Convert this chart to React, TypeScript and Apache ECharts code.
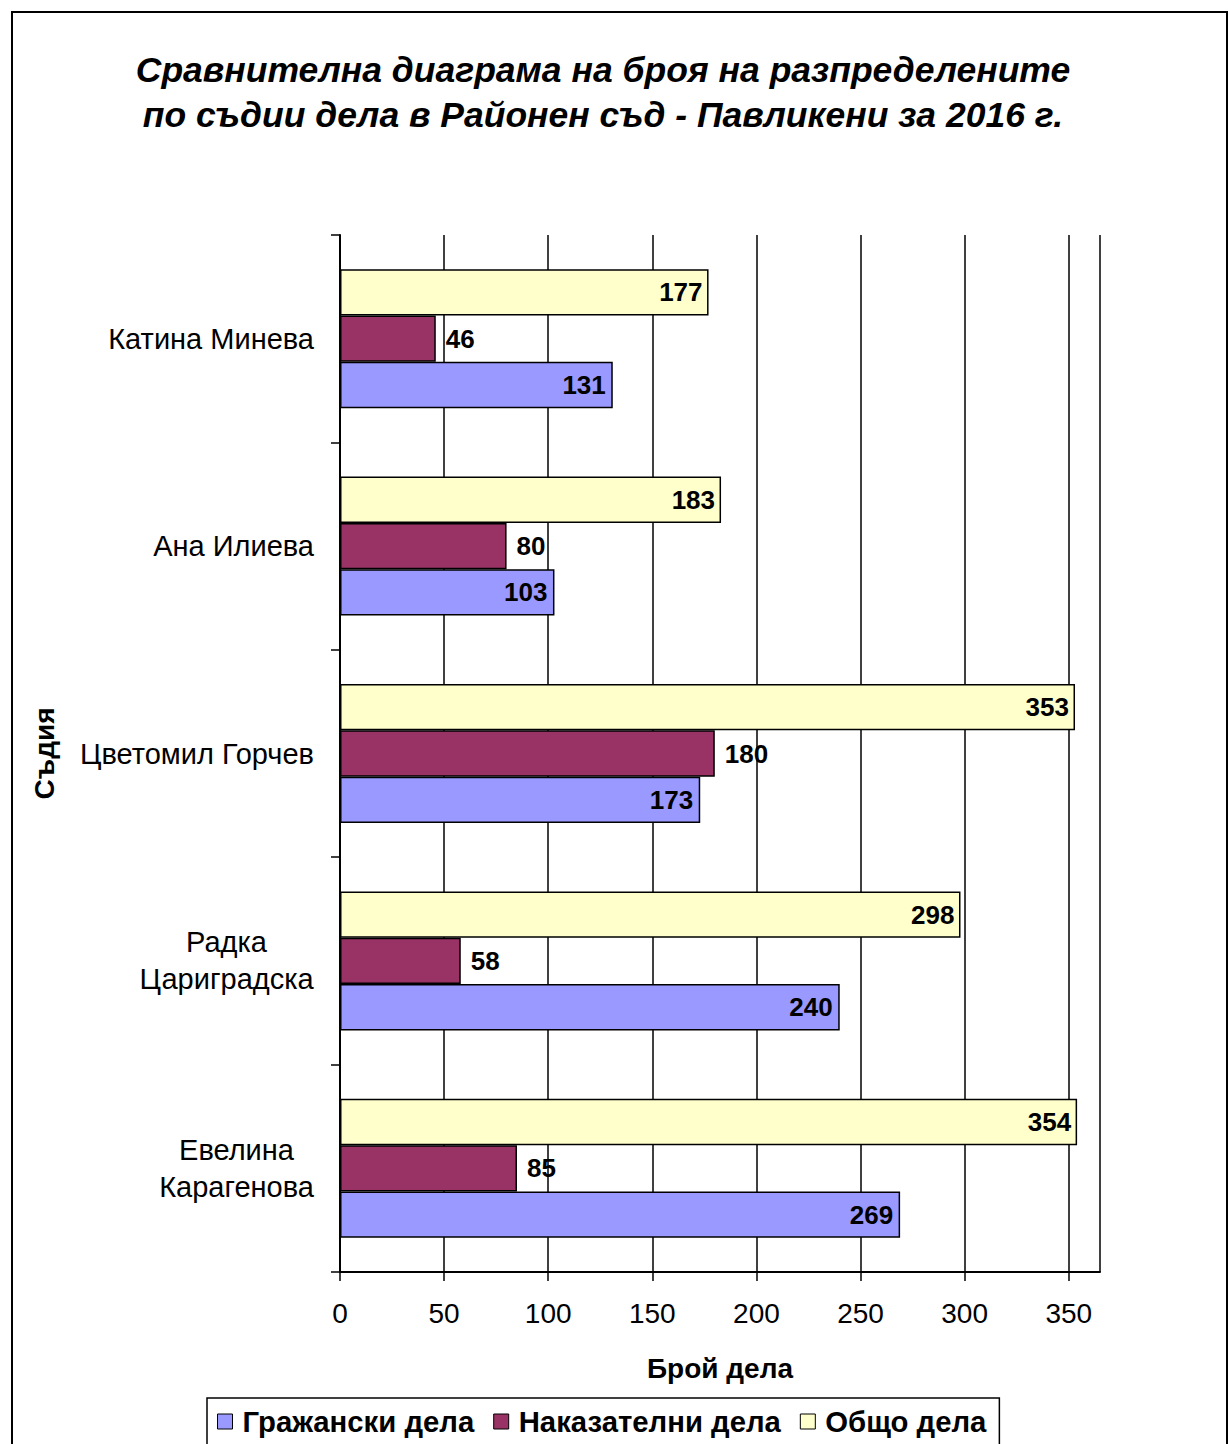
import React, { useEffect, useRef } from "react";
import * as echarts from "echarts";

const judges = ["Катина Минева", "Ана Илиева", "Цветомил Горчев", "Радка\nЦариградска", "Евелина\nКарагенова"];
const civilCases = [131, 103, 173, 240, 269];
const criminalCases = [46, 80, 180, 58, 85];
const totalCases = [177, 183, 353, 298, 354];
const seriesNames = ["Гражански дела", "Наказателни дела", "Общо дела"];
const titleLines = ["Сравнителна диаграма на броя на разпределените", "по съдии дела в Районен съд - Павликени за 2016 г."];
const xAxisTitle = "Брой дела";
const yAxisTitle = "Съдия";

const FONT = "'Liberation Sans', Arial, sans-serif";
const CAT_SIZE = 29;

function measure(text: string, font: string): number {
  const c = document.createElement("canvas");
  const ctx = c.getContext("2d");
  if (!ctx) return text.length * 13;
  ctx.font = font;
  return ctx.measureText(text).width;
}

export default function App() {
  const ref = useRef<HTMLDivElement>(null);
  useEffect(() => {
    if (!ref.current) return;
    const chart = echarts.init(ref.current, undefined, { renderer: "svg" });
    const rich: Record<string, any> = {};
    judges.forEach((j, i) => {
      const lines = j.split("\n");
      const w = Math.ceil(Math.max(...lines.map((l) => measure(l, `${CAT_SIZE}px 'Liberation Sans'`))));
      rich["c" + i] = { width: w, align: "center", fontSize: CAT_SIZE, fontFamily: FONT, color: "#000", lineHeight: 37 };
    });
    const labelBase = { show: true, fontFamily: FONT, fontWeight: "bold", fontSize: 26, color: "#000" };
    const mk = (name: string, data: number[], color: string, pos: string, dist: number) => ({
      name,
      type: "bar",
      data,
      barGap: "0%",
      barCategoryGap: "33%",
      itemStyle: { color, borderColor: "#000", borderWidth: 1.5 },
      label: { ...labelBase, position: pos, distance: dist },
    });
    chart.setOption({
      animation: false,
      backgroundColor: "#fff",
      textStyle: { fontFamily: FONT },
      graphic: [
        { type: "rect", shape: { x: 12, y: 12, width: 1215, height: 1460 }, style: { fill: "none", stroke: "#000", lineWidth: 2 } },
        {
          type: "text",
          x: 603,
          y: 47,
          style: {
            text: titleLines.join("\n"),
            align: "center",
            verticalAlign: "top",
            fontFamily: FONT,
            fontWeight: "bold",
            fontStyle: "italic",
            fontSize: 35.5,
            lineHeight: 45,
            fill: "#000",
          },
        },
      ],
      legend: {
        data: seriesNames,
        left: 207,
        top: 1398,
        padding: [9, 13, 14, 10],
        borderColor: "#000",
        borderWidth: 1.5,
        itemWidth: 25,
        itemHeight: 15,
        itemGap: 19,
        icon: "path://M0,0L10,0L10,10L0,10Z",
        itemStyle: { borderColor: "#000", borderWidth: 1 },
        textStyle: { fontFamily: FONT, fontWeight: "bold", fontSize: 29.3, color: "#000" },
      },
      grid: { left: 340, right: 128, top: 235, bottom: 172, containLabel: false },
      xAxis: {
        type: "value",
        min: 0,
        max: 365,
        interval: 50,
        name: xAxisTitle,
        nameLocation: "middle",
        nameGap: 82,
        nameTextStyle: { fontFamily: FONT, fontWeight: "bold", fontSize: 28, color: "#000" },
        axisLine: { show: true, lineStyle: { color: "#000", width: 2 } },
        axisTick: { show: true, length: 9, lineStyle: { color: "#000", width: 1.5 } },
        axisLabel: {
          fontFamily: FONT,
          fontSize: 28,
          color: "#000",
          margin: 27,
          showMaxLabel: false,
          formatter: (v: number) => (v % 50 === 0 ? String(v) : ""),
        },
        splitLine: { show: true, lineStyle: { color: "#000", width: 1.5 } },
      },
      yAxis: {
        type: "category",
        data: judges,
        inverse: true,
        name: yAxisTitle,
        nameLocation: "middle",
        nameRotate: 90,
        nameGap: 282,
        nameTextStyle: { fontFamily: FONT, fontWeight: "bold", fontSize: 28, color: "#000" },
        axisLine: { show: true, lineStyle: { color: "#000", width: 2 } },
        axisTick: { show: true, inside: false, length: 9, lineStyle: { color: "#000", width: 1.5 } },
        axisLabel: {
          margin: 26,
          fontFamily: FONT,
          fontSize: CAT_SIZE,
          color: "#000",
          formatter: (v: string, i: number) => {
            if (v.indexOf("\n") < 0) return v;
            return v
              .split("\n")
              .map((l) => `{c${i}|${l}}`)
              .join("\n");
          },
          rich,
        },
        splitLine: { show: false },
      },
      series: [
        mk(seriesNames[2], totalCases, "#FFFFCC", "insideRight", 6),
        mk(seriesNames[1], criminalCases, "#993366", "right", 10),
        mk(seriesNames[0], civilCases, "#9999FF", "insideRight", 7),
      ],
    });
    return () => chart.dispose();
  }, []);
  return <div ref={ref} style={{ position: "fixed", left: 0, top: 0, width: 1228, height: 1444 }} />;
}
